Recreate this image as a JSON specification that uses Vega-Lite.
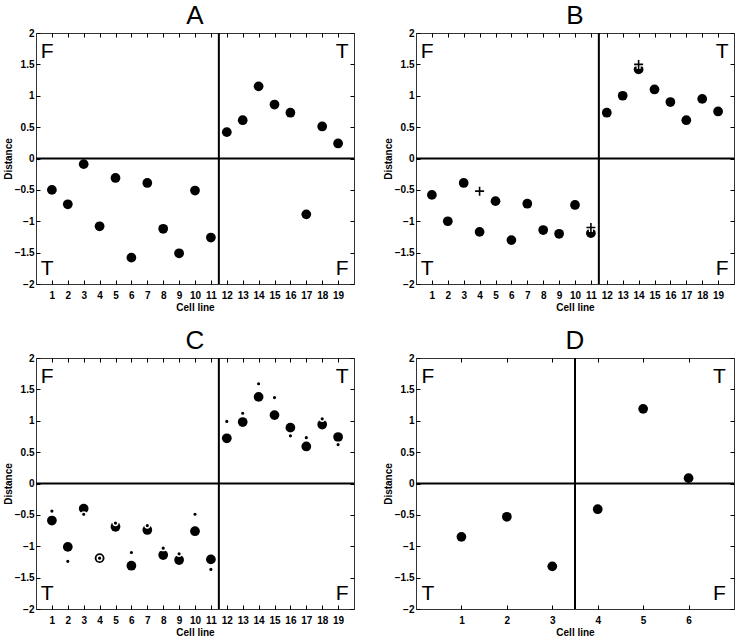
{
  "$schema": "https://vega.github.io/schema/vega-lite/v6.json",
  "padding": {"left": 2, "top": 2, "right": 0, "bottom": 0},
  "background": "white",
  "datasets": {
    "A": [
      {"cell": 1, "distance": -0.50, "marker": "circle"},
      {"cell": 2, "distance": -0.73, "marker": "circle"},
      {"cell": 3, "distance": -0.09, "marker": "circle"},
      {"cell": 4, "distance": -1.08, "marker": "circle"},
      {"cell": 5, "distance": -0.31, "marker": "circle"},
      {"cell": 6, "distance": -1.58, "marker": "circle"},
      {"cell": 7, "distance": -0.39, "marker": "circle"},
      {"cell": 8, "distance": -1.12, "marker": "circle"},
      {"cell": 9, "distance": -1.51, "marker": "circle"},
      {"cell": 10, "distance": -0.51, "marker": "circle"},
      {"cell": 11, "distance": -1.26, "marker": "circle"},
      {"cell": 12, "distance": 0.42, "marker": "circle"},
      {"cell": 13, "distance": 0.61, "marker": "circle"},
      {"cell": 14, "distance": 1.15, "marker": "circle"},
      {"cell": 15, "distance": 0.86, "marker": "circle"},
      {"cell": 16, "distance": 0.73, "marker": "circle"},
      {"cell": 17, "distance": -0.89, "marker": "circle"},
      {"cell": 18, "distance": 0.51, "marker": "circle"},
      {"cell": 19, "distance": 0.24, "marker": "circle"}
    ],
    "B": [
      {"cell": 1, "distance": -0.58, "marker": "circle"},
      {"cell": 2, "distance": -1.00, "marker": "circle"},
      {"cell": 3, "distance": -0.39, "marker": "circle"},
      {"cell": 4, "distance": -1.17, "marker": "circle"},
      {"cell": 5, "distance": -0.68, "marker": "circle"},
      {"cell": 6, "distance": -1.30, "marker": "circle"},
      {"cell": 7, "distance": -0.72, "marker": "circle"},
      {"cell": 8, "distance": -1.14, "marker": "circle"},
      {"cell": 9, "distance": -1.20, "marker": "circle"},
      {"cell": 10, "distance": -0.74, "marker": "circle"},
      {"cell": 11, "distance": -1.19, "marker": "circle"},
      {"cell": 12, "distance": 0.73, "marker": "circle"},
      {"cell": 13, "distance": 1.00, "marker": "circle"},
      {"cell": 14, "distance": 1.42, "marker": "circle"},
      {"cell": 15, "distance": 1.10, "marker": "circle"},
      {"cell": 16, "distance": 0.90, "marker": "circle"},
      {"cell": 17, "distance": 0.61, "marker": "circle"},
      {"cell": 18, "distance": 0.95, "marker": "circle"},
      {"cell": 19, "distance": 0.75, "marker": "circle"},
      {"cell": 4, "distance": -0.52, "marker": "plus"},
      {"cell": 11, "distance": -1.10, "marker": "plus"},
      {"cell": 14, "distance": 1.50, "marker": "plus"}
    ],
    "C": [
      {"cell": 1, "distance": -0.59, "marker": "circle"},
      {"cell": 2, "distance": -1.01, "marker": "circle"},
      {"cell": 3, "distance": -0.40, "marker": "circle"},
      {"cell": 4, "distance": -1.19, "marker": "circle"},
      {"cell": 5, "distance": -0.69, "marker": "circle"},
      {"cell": 6, "distance": -1.31, "marker": "circle"},
      {"cell": 7, "distance": -0.74, "marker": "circle"},
      {"cell": 8, "distance": -1.14, "marker": "circle"},
      {"cell": 9, "distance": -1.22, "marker": "circle"},
      {"cell": 10, "distance": -0.76, "marker": "circle"},
      {"cell": 11, "distance": -1.21, "marker": "circle"},
      {"cell": 12, "distance": 0.72, "marker": "circle"},
      {"cell": 13, "distance": 0.98, "marker": "circle"},
      {"cell": 14, "distance": 1.38, "marker": "circle"},
      {"cell": 15, "distance": 1.09, "marker": "circle"},
      {"cell": 16, "distance": 0.89, "marker": "circle"},
      {"cell": 17, "distance": 0.59, "marker": "circle"},
      {"cell": 18, "distance": 0.94, "marker": "circle"},
      {"cell": 19, "distance": 0.74, "marker": "circle"},
      {"cell": 1, "distance": -0.44, "marker": "dot"},
      {"cell": 2, "distance": -1.24, "marker": "dot"},
      {"cell": 3, "distance": -0.49, "marker": "dot"},
      {"cell": 4, "distance": -1.19, "marker": "dot"},
      {"cell": 5, "distance": -0.63, "marker": "dot"},
      {"cell": 6, "distance": -1.10, "marker": "dot"},
      {"cell": 7, "distance": -0.67, "marker": "dot"},
      {"cell": 8, "distance": -1.03, "marker": "dot"},
      {"cell": 9, "distance": -1.12, "marker": "dot"},
      {"cell": 10, "distance": -0.49, "marker": "dot"},
      {"cell": 11, "distance": -1.37, "marker": "dot"},
      {"cell": 12, "distance": 0.99, "marker": "dot"},
      {"cell": 13, "distance": 1.12, "marker": "dot"},
      {"cell": 14, "distance": 1.59, "marker": "dot"},
      {"cell": 15, "distance": 1.37, "marker": "dot"},
      {"cell": 16, "distance": 0.76, "marker": "dot"},
      {"cell": 17, "distance": 0.73, "marker": "dot"},
      {"cell": 18, "distance": 1.03, "marker": "dot"},
      {"cell": 19, "distance": 0.62, "marker": "dot"}
    ],
    "D": [
      {"cell": 1, "distance": -0.85, "marker": "circle"},
      {"cell": 2, "distance": -0.53, "marker": "circle"},
      {"cell": 3, "distance": -1.32, "marker": "circle"},
      {"cell": 4, "distance": -0.41, "marker": "circle"},
      {"cell": 5, "distance": 1.19, "marker": "circle"},
      {"cell": 6, "distance": 0.085, "marker": "circle"}
    ]
  },
  "config": {
    "font": "Liberation Sans",
    "view": {"stroke": "#333", "strokeWidth": 1},
    "axis": {
      "domain": false, "grid": false, "tickColor": "#000", "tickSize": -4, "tickWidth": 1,
      "labelFont": "Liberation Sans", "labelFontWeight": "bold", "labelFontSize": 10, "labelColor": "#000",
      "titleFont": "Liberation Sans", "titleFontWeight": "bold", "titleFontSize": 10, "titleColor": "#000"
    },
    "axisX": {"titlePadding": 2, "labelPadding": 10},
    "axisY": {"titlePadding": 1, "labelPadding": 6},
    "title": {"fontSize": 26, "fontWeight": "normal", "color": "#000", "offset": -1, "font": "Liberation Sans"},
    "text": {"font": "Liberation Sans", "fontSize": 21, "color": "#000", "baseline": "alphabetic"}
  },
  "spacing": 14,
  "vconcat": [
    {
      "spacing": 26,
      "hconcat": [
        {
          "title": "A", "width": 318, "height": 251,
          "resolve": {"axis": {"x": "independent", "y": "independent"}},
          "layer": [
            {"data": {"values": [{}]}, "mark": {"type": "rule", "color": "#000", "strokeWidth": 2}, "encoding": {"y": {"datum": 0, "type": "quantitative", "scale": {"domain": [-2, 2], "nice": false}, "axis": null}}},
            {"data": {"values": [{}]}, "mark": {"type": "rule", "color": "#000", "strokeWidth": 2}, "encoding": {"x": {"datum": 11.5, "type": "quantitative", "scale": {"domain": [0, 20], "nice": false, "zero": false}, "axis": null}}},
            {"data": {"name": "A"}, "transform": [{"filter": "datum.marker === 'circle'"}], "mark": {"type": "point", "shape": "circle", "filled": true, "color": "#000", "size": 95, "opacity": 1},
             "encoding": {
               "x": {"field": "cell", "type": "quantitative", "scale": {"domain": [0, 20], "nice": false, "zero": false}, "axis": {"values": [1,2,3,4,5,6,7,8,9,10,11,12,13,14,15,16,17,18,19], "title": "Cell line", "format": "d"}},
               "y": {"field": "distance", "type": "quantitative", "scale": {"domain": [-2, 2], "nice": false}, "axis": {"values": [-2,-1.5,-1,-0.5,0,0.5,1,1.5,2], "title": "Distance", "format": "~g"}}
             }},
            {"data": {"values": [{}]}, "mark": {"type": "text", "text": "F", "align": "left"},
             "encoding": {
               "x": {"datum": 0.3, "type": "quantitative", "scale": {"domain": [0, 20], "nice": false, "zero": false}, "axis": {"orient": "top", "values": [1,2,3,4,5,6,7,8,9,10,11,12,13,14,15,16,17,18,19], "labels": false, "title": null}},
               "y": {"datum": 1.6, "type": "quantitative", "scale": {"domain": [-2, 2], "nice": false}, "axis": {"orient": "right", "values": [-2,-1.5,-1,-0.5,0,0.5,1,1.5,2], "labels": false, "title": null}}
             }},
            {"data": {"values": [{}]}, "mark": {"type": "text", "text": "T", "align": "right"}, "encoding": {"x": {"datum": 19.66, "type": "quantitative", "scale": {"domain": [0, 20]}, "axis": null}, "y": {"datum": 1.6, "type": "quantitative", "scale": {"domain": [-2, 2]}, "axis": null}}},
            {"data": {"values": [{}]}, "mark": {"type": "text", "text": "T", "align": "left"}, "encoding": {"x": {"datum": 0.3, "type": "quantitative", "scale": {"domain": [0, 20]}, "axis": null}, "y": {"datum": -1.85, "type": "quantitative", "scale": {"domain": [-2, 2]}, "axis": null}}},
            {"data": {"values": [{}]}, "mark": {"type": "text", "text": "F", "align": "right"}, "encoding": {"x": {"datum": 19.66, "type": "quantitative", "scale": {"domain": [0, 20]}, "axis": null}, "y": {"datum": -1.85, "type": "quantitative", "scale": {"domain": [-2, 2]}, "axis": null}}}
          ]
        },
        {
          "title": "B", "width": 318, "height": 251,
          "resolve": {"axis": {"x": "independent", "y": "independent"}},
          "layer": [
            {"data": {"values": [{}]}, "mark": {"type": "rule", "color": "#000", "strokeWidth": 2}, "encoding": {"y": {"datum": 0, "type": "quantitative", "scale": {"domain": [-2, 2], "nice": false}, "axis": null}}},
            {"data": {"values": [{}]}, "mark": {"type": "rule", "color": "#000", "strokeWidth": 2}, "encoding": {"x": {"datum": 11.5, "type": "quantitative", "scale": {"domain": [0, 20], "nice": false, "zero": false}, "axis": null}}},
            {"data": {"name": "B"}, "transform": [{"filter": "datum.marker === 'circle'"}], "mark": {"type": "point", "shape": "circle", "filled": true, "color": "#000", "size": 95, "opacity": 1},
             "encoding": {
               "x": {"field": "cell", "type": "quantitative", "scale": {"domain": [0, 20], "nice": false, "zero": false}, "axis": {"values": [1,2,3,4,5,6,7,8,9,10,11,12,13,14,15,16,17,18,19], "title": "Cell line", "format": "d"}},
               "y": {"field": "distance", "type": "quantitative", "scale": {"domain": [-2, 2], "nice": false}, "axis": {"values": [-2,-1.5,-1,-0.5,0,0.5,1,1.5,2], "title": "Distance", "format": "~g"}}
             }},
            {"data": {"name": "B"}, "transform": [{"filter": "datum.marker === 'plus'"}], "mark": {"type": "point", "shape": "M-1,0H1M0,-1V1", "filled": false, "stroke": "#fff", "strokeWidth": 4, "size": 81, "opacity": 1},
             "encoding": {"x": {"field": "cell", "type": "quantitative", "scale": {"domain": [0, 20]}, "axis": null}, "y": {"field": "distance", "type": "quantitative", "scale": {"domain": [-2, 2]}, "axis": null}}},
            {"data": {"name": "B"}, "transform": [{"filter": "datum.marker === 'plus'"}], "mark": {"type": "point", "shape": "M-1,0H1M0,-1V1", "filled": false, "stroke": "#000", "strokeWidth": 1.6, "size": 81, "opacity": 1},
             "encoding": {"x": {"field": "cell", "type": "quantitative", "scale": {"domain": [0, 20]}, "axis": null}, "y": {"field": "distance", "type": "quantitative", "scale": {"domain": [-2, 2]}, "axis": null}}},
            {"data": {"values": [{}]}, "mark": {"type": "text", "text": "F", "align": "left"},
             "encoding": {
               "x": {"datum": 0.3, "type": "quantitative", "scale": {"domain": [0, 20], "nice": false, "zero": false}, "axis": {"orient": "top", "values": [1,2,3,4,5,6,7,8,9,10,11,12,13,14,15,16,17,18,19], "labels": false, "title": null}},
               "y": {"datum": 1.6, "type": "quantitative", "scale": {"domain": [-2, 2], "nice": false}, "axis": {"orient": "right", "values": [-2,-1.5,-1,-0.5,0,0.5,1,1.5,2], "labels": false, "title": null}}
             }},
            {"data": {"values": [{}]}, "mark": {"type": "text", "text": "T", "align": "right"}, "encoding": {"x": {"datum": 19.66, "type": "quantitative", "scale": {"domain": [0, 20]}, "axis": null}, "y": {"datum": 1.6, "type": "quantitative", "scale": {"domain": [-2, 2]}, "axis": null}}},
            {"data": {"values": [{}]}, "mark": {"type": "text", "text": "T", "align": "left"}, "encoding": {"x": {"datum": 0.3, "type": "quantitative", "scale": {"domain": [0, 20]}, "axis": null}, "y": {"datum": -1.85, "type": "quantitative", "scale": {"domain": [-2, 2]}, "axis": null}}},
            {"data": {"values": [{}]}, "mark": {"type": "text", "text": "F", "align": "right"}, "encoding": {"x": {"datum": 19.66, "type": "quantitative", "scale": {"domain": [0, 20]}, "axis": null}, "y": {"datum": -1.85, "type": "quantitative", "scale": {"domain": [-2, 2]}, "axis": null}}}
          ]
        }
      ]
    },
    {
      "spacing": 26,
      "hconcat": [
        {
          "title": "C", "width": 318, "height": 251,
          "resolve": {"axis": {"x": "independent", "y": "independent"}},
          "layer": [
            {"data": {"values": [{}]}, "mark": {"type": "rule", "color": "#000", "strokeWidth": 2}, "encoding": {"y": {"datum": 0, "type": "quantitative", "scale": {"domain": [-2, 2], "nice": false}, "axis": null}}},
            {"data": {"values": [{}]}, "mark": {"type": "rule", "color": "#000", "strokeWidth": 2}, "encoding": {"x": {"datum": 11.5, "type": "quantitative", "scale": {"domain": [0, 20], "nice": false, "zero": false}, "axis": null}}},
            {"data": {"name": "C"}, "transform": [{"filter": "datum.marker === 'circle'"}], "mark": {"type": "point", "shape": "circle", "filled": true, "color": "#000", "size": 95, "opacity": 1},
             "encoding": {
               "x": {"field": "cell", "type": "quantitative", "scale": {"domain": [0, 20], "nice": false, "zero": false}, "axis": {"values": [1,2,3,4,5,6,7,8,9,10,11,12,13,14,15,16,17,18,19], "title": "Cell line", "format": "d"}},
               "y": {"field": "distance", "type": "quantitative", "scale": {"domain": [-2, 2], "nice": false}, "axis": {"values": [-2,-1.5,-1,-0.5,0,0.5,1,1.5,2], "title": "Distance", "format": "~g"}}
             }},
            {"data": {"name": "C"}, "transform": [{"filter": "datum.marker === 'dot'"}], "mark": {"type": "point", "shape": "circle", "filled": true, "fill": "#000", "stroke": "#fff", "strokeWidth": 1.5, "size": 22, "opacity": 1},
             "encoding": {"x": {"field": "cell", "type": "quantitative", "scale": {"domain": [0, 20]}, "axis": null}, "y": {"field": "distance", "type": "quantitative", "scale": {"domain": [-2, 2]}, "axis": null}}},
            {"data": {"values": [{}]}, "mark": {"type": "text", "text": "F", "align": "left"},
             "encoding": {
               "x": {"datum": 0.3, "type": "quantitative", "scale": {"domain": [0, 20], "nice": false, "zero": false}, "axis": {"orient": "top", "values": [1,2,3,4,5,6,7,8,9,10,11,12,13,14,15,16,17,18,19], "labels": false, "title": null}},
               "y": {"datum": 1.6, "type": "quantitative", "scale": {"domain": [-2, 2], "nice": false}, "axis": {"orient": "right", "values": [-2,-1.5,-1,-0.5,0,0.5,1,1.5,2], "labels": false, "title": null}}
             }},
            {"data": {"values": [{}]}, "mark": {"type": "text", "text": "T", "align": "right"}, "encoding": {"x": {"datum": 19.66, "type": "quantitative", "scale": {"domain": [0, 20]}, "axis": null}, "y": {"datum": 1.6, "type": "quantitative", "scale": {"domain": [-2, 2]}, "axis": null}}},
            {"data": {"values": [{}]}, "mark": {"type": "text", "text": "T", "align": "left"}, "encoding": {"x": {"datum": 0.3, "type": "quantitative", "scale": {"domain": [0, 20]}, "axis": null}, "y": {"datum": -1.85, "type": "quantitative", "scale": {"domain": [-2, 2]}, "axis": null}}},
            {"data": {"values": [{}]}, "mark": {"type": "text", "text": "F", "align": "right"}, "encoding": {"x": {"datum": 19.66, "type": "quantitative", "scale": {"domain": [0, 20]}, "axis": null}, "y": {"datum": -1.85, "type": "quantitative", "scale": {"domain": [-2, 2]}, "axis": null}}}
          ]
        },
        {
          "title": "D", "width": 318, "height": 251,
          "resolve": {"axis": {"x": "independent", "y": "independent"}},
          "layer": [
            {"data": {"values": [{}]}, "mark": {"type": "rule", "color": "#000", "strokeWidth": 2}, "encoding": {"y": {"datum": 0, "type": "quantitative", "scale": {"domain": [-2, 2], "nice": false}, "axis": null}}},
            {"data": {"values": [{}]}, "mark": {"type": "rule", "color": "#000", "strokeWidth": 2}, "encoding": {"x": {"datum": 3.5, "type": "quantitative", "scale": {"domain": [0, 7], "nice": false, "zero": false}, "axis": null}}},
            {"data": {"name": "D"}, "transform": [{"filter": "datum.marker === 'circle'"}], "mark": {"type": "point", "shape": "circle", "filled": true, "color": "#000", "size": 95, "opacity": 1},
             "encoding": {
               "x": {"field": "cell", "type": "quantitative", "scale": {"domain": [0, 7], "nice": false, "zero": false}, "axis": {"values": [1,2,3,4,5,6], "title": "Cell line", "format": "d"}},
               "y": {"field": "distance", "type": "quantitative", "scale": {"domain": [-2, 2], "nice": false}, "axis": {"values": [-2,-1.5,-1,-0.5,0,0.5,1,1.5,2], "title": "Distance", "format": "~g"}}
             }},
            {"data": {"values": [{}]}, "mark": {"type": "text", "text": "F", "align": "left"},
             "encoding": {
               "x": {"datum": 0.12, "type": "quantitative", "scale": {"domain": [0, 7], "nice": false, "zero": false}, "axis": {"orient": "top", "values": [1,2,3,4,5,6], "labels": false, "title": null}},
               "y": {"datum": 1.6, "type": "quantitative", "scale": {"domain": [-2, 2], "nice": false}, "axis": {"orient": "right", "values": [-2,-1.5,-1,-0.5,0,0.5,1,1.5,2], "labels": false, "title": null}}
             }},
            {"data": {"values": [{}]}, "mark": {"type": "text", "text": "T", "align": "right"}, "encoding": {"x": {"datum": 6.82, "type": "quantitative", "scale": {"domain": [0, 7]}, "axis": null}, "y": {"datum": 1.6, "type": "quantitative", "scale": {"domain": [-2, 2]}, "axis": null}}},
            {"data": {"values": [{}]}, "mark": {"type": "text", "text": "T", "align": "left"}, "encoding": {"x": {"datum": 0.12, "type": "quantitative", "scale": {"domain": [0, 7]}, "axis": null}, "y": {"datum": -1.85, "type": "quantitative", "scale": {"domain": [-2, 2]}, "axis": null}}},
            {"data": {"values": [{}]}, "mark": {"type": "text", "text": "F", "align": "right"}, "encoding": {"x": {"datum": 6.82, "type": "quantitative", "scale": {"domain": [0, 7]}, "axis": null}, "y": {"datum": -1.85, "type": "quantitative", "scale": {"domain": [-2, 2]}, "axis": null}}}
          ]
        }
      ]
    }
  ]
}
